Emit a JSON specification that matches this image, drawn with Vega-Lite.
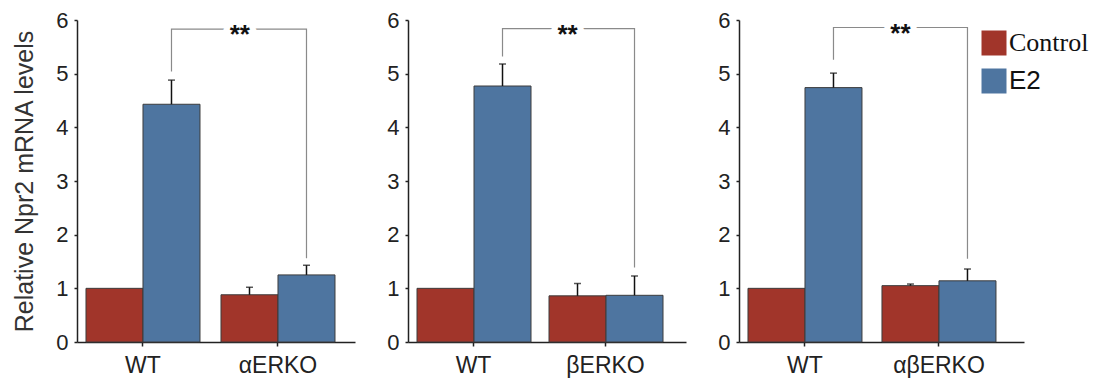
{
  "$schema": "https://vega.github.io/schema/vega-lite/v6.json",
  "padding": {"left": 12, "top": 9, "right": 2, "bottom": 5},
  "background": "white",
  "config": {
    "font": "Liberation Sans",
    "view": {"stroke": null},
    "axis": {"domainColor": "#222", "tickColor": "#222", "labelColor": "#222", "titleColor": "#333", "domainWidth": 1.5, "tickWidth": 1.5, "grid": false, "labelFont": "Liberation Sans", "titleFont": "Liberation Sans"}
  },
  "spacing": 31,
  "resolve": {"scale": {"color": "independent"}, "legend": {"color": "independent"}},
  "hconcat": [
    {
      "width": 278, "height": 322,
      "layer": [
        {
          "data": {"values": [
            {"group": "WT", "treatment": "Control", "value": 1.0, "upper": null},
            {"group": "WT", "treatment": "E2", "value": 4.43, "upper": 4.88},
            {"group": "αERKO", "treatment": "Control", "value": 0.88, "upper": 1.02},
            {"group": "αERKO", "treatment": "E2", "value": 1.25, "upper": 1.43}
          ]},
          "layer": [
            {
              "mark": {"type": "bar", "stroke": "#3c3c3c", "strokeWidth": 1},
              "encoding": {
                "x": {"field": "group", "type": "nominal", "sort": ["WT", "αERKO"], "scale": {"paddingInner": 0.1556, "paddingOuter": 0.1074, "align": 0.31},
                  "axis": {"title": null, "labelAngle": 0, "tickSize": 4, "labelFontSize": 23, "labelPadding": 8}},
                "xOffset": {"field": "treatment", "type": "nominal", "sort": ["Control", "E2"], "scale": {"paddingInner": 0, "paddingOuter": 0}},
                "y": {"field": "value", "type": "quantitative", "scale": {"domain": [0, 6], "nice": false},
                  "axis": {"values": [0, 1, 2, 3, 4, 5, 6], "format": "d", "tickSize": 3, "labelFontSize": 22, "labelPadding": 6, "title": "Relative Npr2  mRNA levels", "titleFontSize": 25, "titleFontWeight": "normal", "titlePadding": 18}},
                "color": {"field": "treatment", "type": "nominal", "scale": {"domain": ["Control", "E2"], "range": ["#A1352A", "#4E75A0"]}, "legend": null}
              }
            },
            {
              "transform": [{"filter": "datum.upper != null"}],
              "mark": {"type": "rule", "color": "#111", "strokeWidth": 1.5},
              "encoding": {
                "x": {"field": "group", "type": "nominal", "sort": ["WT", "αERKO"]},
                "xOffset": {"field": "treatment", "type": "nominal", "sort": ["Control", "E2"]},
                "y": {"field": "value", "type": "quantitative"},
                "y2": {"field": "upper"}
              }
            },
            {
              "transform": [{"filter": "datum.upper != null"}],
              "mark": {"type": "tick", "color": "#111", "thickness": 1.5, "size": 7, "orient": "horizontal"},
              "encoding": {
                "x": {"field": "group", "type": "nominal", "sort": ["WT", "αERKO"]},
                "xOffset": {"field": "treatment", "type": "nominal", "sort": ["Control", "E2"]},
                "y": {"field": "upper", "type": "quantitative"}
              }
            }
          ]
        },
        {
          "data": {"values": [
            {"group": "WT", "treatment": "E2", "seq": 1, "y": 5.04},
            {"group": "WT", "treatment": "E2", "seq": 2, "y": 5.83},
            {"group": "αERKO", "treatment": "E2", "seq": 3, "y": 5.83},
            {"group": "αERKO", "treatment": "E2", "seq": 4, "y": 1.56}
          ]},
          "mark": {"type": "line", "color": "#8a8a8a", "strokeWidth": 1.2},
          "encoding": {
            "x": {"field": "group", "type": "nominal", "sort": ["WT", "αERKO"]},
            "xOffset": {"field": "treatment", "type": "nominal", "sort": ["Control", "E2"]},
            "y": {"field": "y", "type": "quantitative"},
            "order": {"field": "seq"}
          }
        },
        {
          "data": {"values": [{"group": "αERKO", "y": 5.83, "label": "**"}]},
          "layer": [
            {"mark": {"type": "text", "fontSize": 26, "fontWeight": "bold", "baseline": "alphabetic", "dy": 14, "stroke": "white", "strokeWidth": 12, "color": "white"},
             "encoding": {"x": {"field": "group", "type": "nominal", "sort": ["WT", "αERKO"], "bandPosition": 0.165}, "y": {"field": "y", "type": "quantitative"}, "text": {"field": "label"}}},
            {"mark": {"type": "text", "fontSize": 26, "fontWeight": "bold", "baseline": "alphabetic", "dy": 14, "color": "#111"},
             "encoding": {"x": {"field": "group", "type": "nominal", "sort": ["WT", "αERKO"], "bandPosition": 0.165}, "y": {"field": "y", "type": "quantitative"}, "text": {"field": "label"}}}
          ]
        }
      ]
    },
    {
      "width": 278, "height": 322,
      "layer": [
        {
          "data": {"values": [
            {"group": "WT", "treatment": "Control", "value": 1.0, "upper": null},
            {"group": "WT", "treatment": "E2", "value": 4.77, "upper": 5.18},
            {"group": "βERKO", "treatment": "Control", "value": 0.86, "upper": 1.09},
            {"group": "βERKO", "treatment": "E2", "value": 0.87, "upper": 1.23}
          ]},
          "layer": [
            {
              "mark": {"type": "bar", "stroke": "#3c3c3c", "strokeWidth": 1},
              "encoding": {
                "x": {"field": "group", "type": "nominal", "sort": ["WT", "βERKO"], "scale": {"paddingInner": 0.144, "paddingOuter": 0.125, "align": 0.273},
                  "axis": {"title": null, "labelAngle": 0, "tickSize": 4, "labelFontSize": 23, "labelPadding": 8}},
                "xOffset": {"field": "treatment", "type": "nominal", "sort": ["Control", "E2"], "scale": {"paddingInner": 0, "paddingOuter": 0}},
                "y": {"field": "value", "type": "quantitative", "scale": {"domain": [0, 6], "nice": false},
                  "axis": {"values": [0, 1, 2, 3, 4, 5, 6], "format": "d", "tickSize": 3, "labelFontSize": 22, "labelPadding": 6, "title": null}},
                "color": {"field": "treatment", "type": "nominal", "scale": {"domain": ["Control", "E2"], "range": ["#A1352A", "#4E75A0"]}, "legend": null}
              }
            },
            {
              "transform": [{"filter": "datum.upper != null"}],
              "mark": {"type": "rule", "color": "#111", "strokeWidth": 1.5},
              "encoding": {
                "x": {"field": "group", "type": "nominal", "sort": ["WT", "βERKO"]},
                "xOffset": {"field": "treatment", "type": "nominal", "sort": ["Control", "E2"]},
                "y": {"field": "value", "type": "quantitative"},
                "y2": {"field": "upper"}
              }
            },
            {
              "transform": [{"filter": "datum.upper != null"}],
              "mark": {"type": "tick", "color": "#111", "thickness": 1.5, "size": 7, "orient": "horizontal"},
              "encoding": {
                "x": {"field": "group", "type": "nominal", "sort": ["WT", "βERKO"]},
                "xOffset": {"field": "treatment", "type": "nominal", "sort": ["Control", "E2"]},
                "y": {"field": "upper", "type": "quantitative"}
              }
            }
          ]
        },
        {
          "data": {"values": [
            {"group": "WT", "treatment": "E2", "seq": 1, "y": 5.32},
            {"group": "WT", "treatment": "E2", "seq": 2, "y": 5.84},
            {"group": "βERKO", "treatment": "E2", "seq": 3, "y": 5.84},
            {"group": "βERKO", "treatment": "E2", "seq": 4, "y": 1.39}
          ]},
          "mark": {"type": "line", "color": "#8a8a8a", "strokeWidth": 1.2},
          "encoding": {
            "x": {"field": "group", "type": "nominal", "sort": ["WT", "βERKO"]},
            "xOffset": {"field": "treatment", "type": "nominal", "sort": ["Control", "E2"]},
            "y": {"field": "y", "type": "quantitative"},
            "order": {"field": "seq"}
          }
        },
        {
          "data": {"values": [{"group": "βERKO", "y": 5.84, "label": "**"}]},
          "layer": [
            {"mark": {"type": "text", "fontSize": 26, "fontWeight": "bold", "baseline": "alphabetic", "dy": 14, "stroke": "white", "strokeWidth": 12, "color": "white"},
             "encoding": {"x": {"field": "group", "type": "nominal", "sort": ["WT", "βERKO"], "bandPosition": 0.164}, "y": {"field": "y", "type": "quantitative"}, "text": {"field": "label"}}},
            {"mark": {"type": "text", "fontSize": 26, "fontWeight": "bold", "baseline": "alphabetic", "dy": 14, "color": "#111"},
             "encoding": {"x": {"field": "group", "type": "nominal", "sort": ["WT", "βERKO"], "bandPosition": 0.164}, "y": {"field": "y", "type": "quantitative"}, "text": {"field": "label"}}}
          ]
        }
      ]
    },
    {
      "width": 285, "height": 322,
      "layer": [
        {
          "data": {"values": [
            {"group": "WT", "treatment": "Control", "value": 1.0, "upper": null},
            {"group": "WT", "treatment": "E2", "value": 4.74, "upper": 5.01},
            {"group": "αβERKO", "treatment": "Control", "value": 1.05, "upper": 1.08},
            {"group": "αβERKO", "treatment": "E2", "value": 1.14, "upper": 1.36}
          ]},
          "layer": [
            {
              "mark": {"type": "bar", "stroke": "#3c3c3c", "strokeWidth": 1},
              "encoding": {
                "x": {"field": "group", "type": "nominal", "sort": ["WT", "αβERKO"], "scale": {"paddingInner": 0.149, "paddingOuter": 0.138, "align": 0.243},
                  "axis": {"title": null, "labelAngle": 0, "tickSize": 4, "labelFontSize": 23, "labelPadding": 8}},
                "xOffset": {"field": "treatment", "type": "nominal", "sort": ["Control", "E2"], "scale": {"paddingInner": 0, "paddingOuter": 0}},
                "y": {"field": "value", "type": "quantitative", "scale": {"domain": [0, 6], "nice": false},
                  "axis": {"values": [0, 1, 2, 3, 4, 5, 6], "format": "d", "tickSize": 3, "labelFontSize": 22, "labelPadding": 6, "title": null}},
                "color": {"field": "treatment", "type": "nominal", "scale": {"domain": ["Control", "E2"], "range": ["#A1352A", "#4E75A0"]},
                  "legend": {"title": null, "orient": "none", "legendX": 242, "legendY": 10, "symbolType": "square", "symbolSize": 625, "symbolStrokeWidth": 0, "labelFontSize": 26, "labelColor": "#111", "labelOffset": 2, "rowPadding": 12,
                    "labelFont": {"expr": "datum.value === 'Control' ? 'Liberation Serif' : 'Liberation Sans'"}}}
              }
            },
            {
              "transform": [{"filter": "datum.upper != null"}],
              "mark": {"type": "rule", "color": "#111", "strokeWidth": 1.5},
              "encoding": {
                "x": {"field": "group", "type": "nominal", "sort": ["WT", "αβERKO"]},
                "xOffset": {"field": "treatment", "type": "nominal", "sort": ["Control", "E2"]},
                "y": {"field": "value", "type": "quantitative"},
                "y2": {"field": "upper"}
              }
            },
            {
              "transform": [{"filter": "datum.upper != null"}],
              "mark": {"type": "tick", "color": "#111", "thickness": 1.5, "size": 7, "orient": "horizontal"},
              "encoding": {
                "x": {"field": "group", "type": "nominal", "sort": ["WT", "αβERKO"]},
                "xOffset": {"field": "treatment", "type": "nominal", "sort": ["Control", "E2"]},
                "y": {"field": "upper", "type": "quantitative"}
              }
            }
          ]
        },
        {
          "data": {"values": [
            {"group": "WT", "treatment": "E2", "seq": 1, "y": 5.26},
            {"group": "WT", "treatment": "E2", "seq": 2, "y": 5.86},
            {"group": "αβERKO", "treatment": "E2", "seq": 3, "y": 5.86},
            {"group": "αβERKO", "treatment": "E2", "seq": 4, "y": 1.55}
          ]},
          "mark": {"type": "line", "color": "#8a8a8a", "strokeWidth": 1.2},
          "encoding": {
            "x": {"field": "group", "type": "nominal", "sort": ["WT", "αβERKO"]},
            "xOffset": {"field": "treatment", "type": "nominal", "sort": ["Control", "E2"]},
            "y": {"field": "y", "type": "quantitative"},
            "order": {"field": "seq"}
          }
        },
        {
          "data": {"values": [{"group": "αβERKO", "y": 5.86, "label": "**"}]},
          "layer": [
            {"mark": {"type": "text", "fontSize": 26, "fontWeight": "bold", "baseline": "alphabetic", "dy": 14, "stroke": "white", "strokeWidth": 12, "color": "white"},
             "encoding": {"x": {"field": "group", "type": "nominal", "sort": ["WT", "αβERKO"], "bandPosition": 0.162}, "y": {"field": "y", "type": "quantitative"}, "text": {"field": "label"}}},
            {"mark": {"type": "text", "fontSize": 26, "fontWeight": "bold", "baseline": "alphabetic", "dy": 14, "color": "#111"},
             "encoding": {"x": {"field": "group", "type": "nominal", "sort": ["WT", "αβERKO"], "bandPosition": 0.162}, "y": {"field": "y", "type": "quantitative"}, "text": {"field": "label"}}}
          ]
        }
      ]
    }
  ]
}
